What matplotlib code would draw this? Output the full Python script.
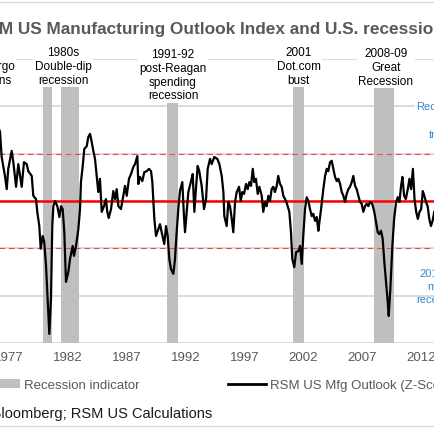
import matplotlib
matplotlib.use("Agg")
import matplotlib.pyplot as plt
from matplotlib.patches import Patch
from matplotlib.lines import Line2D

plt.rcParams['font.family'] = ['Liberation Sans', 'DejaVu Sans']

# RSM US Mfg Outlook (Z-score) (decimal year, z)
mfg_year = [
    1975.90, 1976.28, 1976.42, 1976.70, 1976.85, 1976.98, 1977.27, 1977.41, 1977.64, 1977.83,
    1978.12, 1978.31, 1978.54, 1978.68, 1978.97, 1979.10, 1979.33, 1979.44, 1979.61, 1979.73,
    1979.90, 1980.03, 1980.18, 1980.32, 1980.46, 1980.60, 1980.71, 1980.80, 1980.94, 1981.14,
    1981.31, 1981.45, 1981.59, 1981.73, 1981.87, 1982.07, 1982.21, 1982.44, 1982.55, 1982.72,
    1982.92, 1983.06, 1983.14, 1983.29, 1983.42, 1983.63, 1983.76, 1983.91, 1984.05, 1984.19,
    1984.33, 1984.47, 1984.61, 1984.75, 1984.90, 1985.09, 1985.26, 1985.36, 1985.49, 1985.69,
    1985.88, 1986.03, 1986.17, 1986.31, 1986.53, 1986.73, 1986.87, 1987.02, 1987.21, 1987.38,
    1987.58, 1987.72, 1987.92, 1988.00, 1988.14, 1988.34, 1988.51, 1988.71, 1988.91, 1989.08,
    1989.19, 1989.36, 1989.50, 1989.70, 1989.84, 1989.98, 1990.20, 1990.35, 1990.49, 1990.63,
    1990.77, 1990.97, 1991.11, 1991.25, 1991.39, 1991.53, 1991.73, 1991.87, 1991.96, 1992.10,
    1992.24, 1992.47, 1992.61, 1992.75, 1992.87, 1993.03, 1993.17, 1993.37, 1993.57, 1993.74,
    1993.88, 1994.08, 1994.22, 1994.44, 1994.70, 1994.87, 1995.07, 1995.21, 1995.29, 1995.49,
    1995.63, 1995.77, 1995.92, 1996.05, 1996.20, 1996.34, 1996.54, 1996.68, 1996.81, 1996.96,
    1997.13, 1997.27, 1997.41, 1997.55, 1997.70, 1997.83, 1997.97, 1998.12, 1998.26, 1998.46,
    1998.59, 1998.74, 1998.88, 1999.02, 1999.16, 1999.30, 1999.44, 1999.58, 1999.73, 1999.86,
    2000.01, 2000.15, 2000.29, 2000.52, 2000.66, 2000.80, 2000.94, 2001.05, 2001.22, 2001.37,
    2001.56, 2001.71, 2001.85, 2001.98, 2002.13, 2002.27, 2002.41, 2002.55, 2002.70, 2002.83,
    2002.98, 2003.12, 2003.26, 2003.35, 2003.49, 2003.68, 2003.83, 2003.97, 2004.10, 2004.25,
    2004.39, 2004.53, 2004.67, 2004.82, 2004.95, 2005.10, 2005.24, 2005.38, 2005.52, 2005.66,
    2005.80, 2005.94, 2006.09, 2006.22, 2006.37, 2006.51, 2006.65, 2006.79, 2006.93, 2007.07,
    2007.21, 2007.36, 2007.49, 2007.64, 2007.83, 2008.00, 2008.14, 2008.29, 2008.42, 2008.57,
    2008.71, 2008.85, 2008.99, 2009.14, 2009.22, 2009.36, 2009.53, 2009.68, 2009.85, 2009.99,
    2010.13, 2010.27, 2010.38, 2010.53, 2010.67, 2010.84, 2010.98, 2011.12, 2011.27, 2011.41,
    2011.55, 2011.69, 2011.83, 2011.97, 2012.11, 2012.24, 2012.38, 2012.52, 2012.66, 2012.80,
    2012.94, 2013.08, 2013.30, 2013.60,
]
mfg_z = [
    1.75, 1.46, 0.93, 0.53, 0.25, 0.68, 1.06, 0.82, 0.30, 0.78,
    0.30, 0.82, 0.78, 0.63, 0.53, 0.11, 0.04, -0.23, -0.53, -1.01,
    -0.74, -0.87, -1.37, -2.07, -2.81, -2.07, -0.53, -0.11, 0.00, -0.11,
    -0.34, -0.11, -0.17, -0.66, -1.71, -1.50, -1.23, -0.95, -1.16, -0.95,
    -0.59, -0.17, 0.40, 0.74, 1.10, 1.16, 1.35, 1.42, 1.25, 1.06,
    0.89, 0.53, 0.19, 0.47, -0.23, -0.11, 0.04, -0.21, -0.36, -0.17,
    0.21, 0.04, 0.25, -0.11, -0.17, 0.11, 0.32, 0.11, 0.47, 0.57,
    0.72, 0.78, 0.95, 0.36, 0.51, 0.42, 0.61, 0.63, 0.68, 0.63,
    0.40, -0.38, -0.74, -0.59, -0.49, -0.66, -0.91, -0.53, -0.74, -1.23,
    -1.44, -1.54, -1.23, -0.66, -0.17, 0.21, 0.40, -0.32, -0.66, -0.23,
    0.19, 0.42, 0.57, -0.23, 0.21, 0.74, 0.63, 0.32, -0.17, 0.04,
    0.68, 0.89, 0.78, 0.93, 0.89, 0.78, 0.53, 0.19, -0.32, -0.53,
    -0.02, -0.11, -0.38, -0.66, -0.02, 0.19, 0.30, 0.00, 0.19, 0.15,
    0.36, 0.25, 0.40, 0.32, 0.68, 0.40, 0.47, 0.15, 0.30, 0.11,
    -0.23, -0.02, -0.11, 0.11, 0.00, 0.25, 0.30, 0.19, 0.32, 0.53,
    0.36, 0.30, 0.11, 0.00, -0.11, -0.23, -0.66, -1.23, -1.40, -1.08,
    -1.06, -0.95, -1.33, -0.74, -0.17, 0.08, 0.00, -0.17, -0.32, -0.27,
    -0.42, -0.34, -0.63, -0.44, -0.17, 0.25, 0.53, 0.68, 0.63, 0.82,
    0.85, 0.68, 0.51, 0.42, 0.47, 0.36, 0.19, 0.11, -0.02, 0.15,
    0.25, 0.30, 0.40, 0.53, 0.32, 0.25, 0.11, -0.02, -0.06, -0.23,
    -0.11, -0.06, -0.11, -0.02, -0.06, -0.23, -0.44, -0.66, -0.70, -0.63,
    -0.80, -1.29, -1.71, -2.14, -2.43, -1.86, -0.95, -0.38, -0.02, 0.08,
    -0.02, 0.32, 0.51, 0.11, 0.04, 0.25, 0.47, 0.25, 0.68, 0.04,
    -0.23, -0.38, -0.23, -0.17, 0.21, 0.11, -0.02, -0.11, -0.38, -0.53,
    -0.42, -0.23, -0.10, 0.05,
]

# recession indicator bands (decimal years)
rec_start = [1973.87, 1979.95, 1981.45, 1990.46, 2001.14, 2007.95]
rec_end = [1975.25, 1980.66, 1982.97, 1991.34, 2002.04, 2009.67]

tick_years = [1972, 1977, 1982, 1987, 1992, 1997, 2002, 2007, 2012, 2017]
z_levels = [-3, -2, -1, 0, 1, 2, 3]

# recession labels
rec_label_x = [1974.84, 1981.62, 1990.94, 2001.58, 2008.99]
rec_label_y = [2.85, 2.85, 2.67, 2.86, 2.83]
rec_label_text = [
    "1970s\nOil embargo\nrecessions",
    "1980s\nDouble-dip\nrecession",
    "1991-92\npost-Reagan\nspending\nrecession",
    "2001\nDot.com\nbust",
    "2008-09\nGreat\nRecession",
]

W = H = 435.0
fig = plt.figure(figsize=(4.35, 4.35), dpi=100)
fig.patch.set_facecolor("white")

# plot area runs past both edges of the picture (cropped chart)
x0, x1 = 1972, 2018
px_left = 8.5 + (x0 - 1977) * 11.8
px_right = 8.5 + (x1 - 1977) * 11.8
ax = fig.add_axes([px_left / W, (H - 343.9) / H,
                   (px_right - px_left) / W, (343.9 - 60.1) / H])

ax.set_yticks(z_levels)
ax.yaxis.grid(True, color="#d4d4d4", linewidth=1.2)
ax.set_axisbelow(True)
ax.tick_params(axis="y", left=False, labelleft=False)
ax.set_xticks(tick_years)
ax.set_xticklabels([str(y) for y in tick_years])
ax.tick_params(axis="x", length=0, pad=6, labelsize=9.5, labelcolor="#595959")
for s in ax.spines.values():
    s.set_visible(False)

for a, b in zip(rec_start, rec_end):
    ax.axvspan(a, b, color="#bfbfbf", linewidth=0, zorder=1)

# reference levels: +/-1 dashed, 0 solid
ax.axhline(1, color="#f04848", linewidth=0.8, dashes=(5, 3.5), zorder=2)
ax.axhline(-1, color="#f04848", linewidth=0.8, dashes=(5, 3.5), zorder=2)
ax.axhline(0, color="#ff0000", linewidth=1.8, zorder=3)

ax.plot(mfg_year, mfg_z, color="black", linewidth=1.6, zorder=4)

ax.set_xlim(x0, x1)
ax.set_ylim(-3, 3)

box = dict(facecolor="white", edgecolor="none", pad=1.0)
for x, y, t in zip(rec_label_x, rec_label_y, rec_label_text):
    ax.text(x, y, t, ha="center", va="center", fontsize=8.5, color="black",
            bbox=box, zorder=5, linespacing=1.2)

blue = "#2f8bd6"
ax.text(2011.55, 2.0, "Recession", ha="left", va="center", fontsize=8,
        color=blue, bbox=box, zorder=5)
ax.text(2012.60, 1.42, "trigger", ha="left", va="center", fontsize=8,
        color=blue, zorder=5)
ax.text(2013.55, -1.80, "2015-16\nmini-\nrecession", ha="center", va="center",
        fontsize=8, color=blue, zorder=5, linespacing=1.35)

# title, legend, source
fig.text(-25 / W, 1 - 34.3 / H, "RSM US Manufacturing Outlook Index and U.S. recessions",
         fontsize=12.4, fontweight="bold", color="#595959", va="baseline", ha="left")

handles = [Patch(facecolor="#bfbfbf", edgecolor="none"),
           Line2D([], [], color="black", linewidth=2.0)]
fig.legend(handles, ["Recession indicator", "RSM US Mfg Outlook (Z-Score)"],
           loc="center left", bbox_to_anchor=(-18 / W, 1 - 386 / H),
           bbox_transform=fig.transFigure, ncol=2, frameon=False,
           fontsize=9.5, labelcolor="#595959", handlelength=2.88,
           handletextpad=0.3, columnspacing=6.7, borderpad=0, borderaxespad=0)

fig.text(-63 / W, 1 - 418 / H, "Source: Bloomberg; RSM US Calculations",
         fontsize=10.5, color="#1a1a1a", va="baseline", ha="left")

# chart-area border lines
for yy in (3, 427):
    fig.add_artist(Line2D([0, 1], [1 - yy / H, 1 - yy / H], transform=fig.transFigure,
                          color="#d9d9d9", linewidth=1.0))

fig.savefig("out.png", dpi=100, facecolor="white")
